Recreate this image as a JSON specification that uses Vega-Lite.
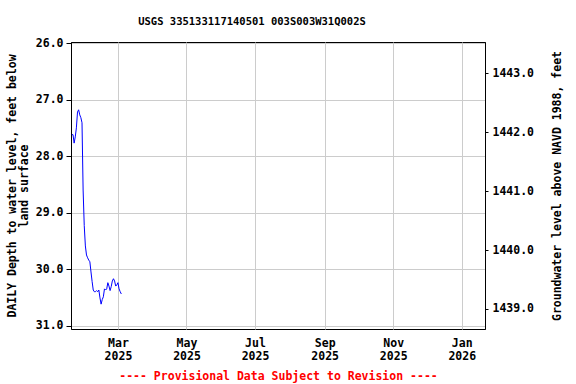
{
  "$schema": "https://vega.github.io/schema/vega-lite/v6.json",
  "width": 414,
  "height": 287,
  "autosize": {"type": "none"},
  "padding": {"left": 71, "top": 42, "right": 91, "bottom": 55},
  "background": "white",
  "title": {
    "text": "USGS 335133117140501 003S003W31Q002S",
    "font": "DejaVu Sans Mono",
    "fontWeight": "bold",
    "fontSize": 10.5,
    "color": "black",
    "offset": 10,
    "dx": -26
  },
  "config": {
    "view": {"stroke": "black", "strokeWidth": 1},
    "axis": {
      "labelFont": "DejaVu Sans Mono",
      "labelFontWeight": "bold",
      "labelFontSize": 11.5,
      "labelColor": "black",
      "titleFont": "DejaVu Sans Mono",
      "titleFontWeight": "bold",
      "titleFontSize": 11.5,
      "titleColor": "black",
      "gridColor": "#cccccc",
      "gridWidth": 1,
      "domainColor": "black",
      "tickColor": "black"
    }
  },
  "data": {
    "values": [
      {"date": "2025-01-19", "depth": 27.62},
      {"date": "2025-01-20", "depth": 27.62},
      {"date": "2025-01-21", "depth": 27.77},
      {"date": "2025-01-22", "depth": 27.66},
      {"date": "2025-01-23", "depth": 27.50},
      {"date": "2025-01-24", "depth": 27.22},
      {"date": "2025-01-25", "depth": 27.18},
      {"date": "2025-01-26", "depth": 27.27},
      {"date": "2025-01-27", "depth": 27.32},
      {"date": "2025-01-28", "depth": 27.41},
      {"date": "2025-01-29", "depth": 28.60},
      {"date": "2025-01-30", "depth": 29.23},
      {"date": "2025-01-31", "depth": 29.59},
      {"date": "2025-02-01", "depth": 29.75},
      {"date": "2025-02-02", "depth": 29.80},
      {"date": "2025-02-03", "depth": 29.84},
      {"date": "2025-02-04", "depth": 29.87},
      {"date": "2025-02-05", "depth": 30.05},
      {"date": "2025-02-06", "depth": 30.22},
      {"date": "2025-02-07", "depth": 30.37},
      {"date": "2025-02-08", "depth": 30.40},
      {"date": "2025-02-09", "depth": 30.40},
      {"date": "2025-02-10", "depth": 30.38},
      {"date": "2025-02-11", "depth": 30.40},
      {"date": "2025-02-12", "depth": 30.37},
      {"date": "2025-02-13", "depth": 30.51},
      {"date": "2025-02-14", "depth": 30.62},
      {"date": "2025-02-15", "depth": 30.54},
      {"date": "2025-02-16", "depth": 30.49},
      {"date": "2025-02-17", "depth": 30.35},
      {"date": "2025-02-18", "depth": 30.37},
      {"date": "2025-02-19", "depth": 30.35},
      {"date": "2025-02-20", "depth": 30.24},
      {"date": "2025-02-21", "depth": 30.30},
      {"date": "2025-02-22", "depth": 30.38},
      {"date": "2025-02-23", "depth": 30.31},
      {"date": "2025-02-24", "depth": 30.21},
      {"date": "2025-02-25", "depth": 30.17},
      {"date": "2025-02-26", "depth": 30.21},
      {"date": "2025-02-27", "depth": 30.30},
      {"date": "2025-02-28", "depth": 30.28},
      {"date": "2025-03-01", "depth": 30.24},
      {"date": "2025-03-02", "depth": 30.35},
      {"date": "2025-03-03", "depth": 30.40},
      {"date": "2025-03-04", "depth": 30.44}
    ]
  },
  "encoding": {
    "x": {
      "field": "date",
      "type": "temporal",
      "scale": {
        "type": "utc",
        "domain": [
          {"year": 2025, "month": 1, "date": 18, "hours": 5, "utc": true},
          {"year": 2026, "month": 1, "date": 21, "hours": 17, "utc": true}
        ]
      },
      "axis": {
        "values": [
          {"year": 2025, "month": 3, "date": 1, "utc": true},
          {"year": 2025, "month": 5, "date": 1, "utc": true},
          {"year": 2025, "month": 7, "date": 1, "utc": true},
          {"year": 2025, "month": 9, "date": 1, "utc": true},
          {"year": 2025, "month": 11, "date": 1, "utc": true},
          {"year": 2026, "month": 1, "date": 1, "utc": true}
        ],
        "labelExpr": "[utcFormat(datum.value, '%b'), utcFormat(datum.value, '%Y')]",
        "labelLineHeight": 13,
        "labelPadding": 8,
        "ticks": false,
        "domain": false,
        "grid": true,
        "title": "---- Provisional Data Subject to Revision ----",
        "titleColor": "red",
        "titlePadding": 9
      }
    }
  },
  "layer": [
    {
      "mark": {"type": "line", "color": "blue", "strokeWidth": 1, "clip": true},
      "encoding": {
        "y": {
          "field": "depth",
          "type": "quantitative",
          "scale": {"domain": [25.98, 31.06], "reverse": true, "nice": false, "zero": false},
          "axis": {
            "values": [26, 27, 28, 29, 30, 31],
            "format": ".1f",
            "grid": true,
            "tickSize": 5,
            "labelPadding": 3,
            "title": ["DAILY Depth to water level, feet below", "land surface"],
            "titlePadding": 6,
            "titleLineHeight": 12
          }
        }
      }
    },
    {
      "mark": {"type": "line", "opacity": 0, "clip": true},
      "encoding": {
        "y": {
          "field": "depth",
          "type": "quantitative",
          "scale": {"domain": [1438.66, 1443.53], "nice": false, "zero": false},
          "axis": {
            "orient": "right",
            "values": [1439, 1440, 1441, 1442, 1443],
            "format": ".1f",
            "grid": false,
            "tickSize": 3,
            "labelPadding": 4,
            "title": "Groundwater level above NAVD 1988, feet",
            "titleAngle": -90,
            "titleBaseline": "bottom",
            "titlePadding": 29
          }
        }
      }
    }
  ],
  "resolve": {"scale": {"y": "independent"}}
}
